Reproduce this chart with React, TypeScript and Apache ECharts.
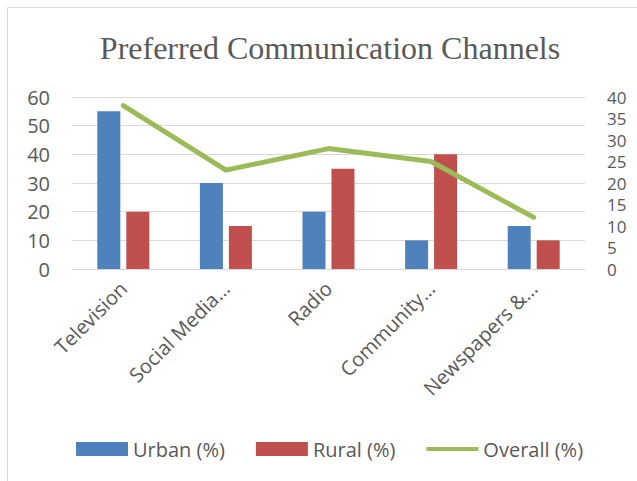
import React, { useEffect, useRef } from "react";
import * as echarts from "echarts";

const categories = ["Television", "Social Media…", "Radio", "Community…", "Newspapers &…"];
const urban = [55, 30, 20, 10, 15];
const rural = [20, 15, 35, 40, 10];
const overall = [38, 23, 28, 25, 12];
const leftTicks = { min: 0, max: 60, interval: 10 };
const rightTicks = { min: 0, max: 40, interval: 5 };

const FONT = "'Open Sans', 'Noto Sans', sans-serif";
const GREY = "#595959";

export default function App() {
  const ref = useRef<HTMLDivElement>(null);
  useEffect(() => {
    document.body.style.margin = "0";
    const chart = echarts.init(ref.current!, undefined, { renderer: "svg" });
    chart.setOption({
      animation: false,
      backgroundColor: "#ffffff",
      graphic: [
        {
          type: "rect",
          shape: { x: 7.5, y: 7.5, width: 660, height: 500 },
          style: { fill: "none", stroke: "#d9d9d9", lineWidth: 1 },
          silent: true,
          z: -1,
        },
      ],
      title: {
        text: "Preferred Communication Channels",
        left: 325,
        textAlign: "center",
        top: 27,
        textStyle: {
          fontFamily: "'Liberation Serif', 'Times New Roman', serif",
          fontSize: 32,
          fontWeight: "normal",
          color: GREY,
        },
      },
      legend: {
        left: 71,
        top: 434,
        itemWidth: 52,
        itemHeight: 14,
        itemGap: 31,
        textStyle: { fontFamily: FONT, fontSize: 20, color: GREY },
        data: [
          { name: "Urban (%)", icon: "rect" },
          { name: "Rural (%)", icon: "rect" },
          {
            name: "Overall (%)",
            icon: "path://M0,0 L55,0 L55,4 L0,4 Z",
            itemStyle: { color: "#9BBB59" },
          },
        ],
      },
      grid: { left: 72, right: 52, top: 97, bottom: 212 },
      xAxis: {
        type: "category",
        data: categories,
        axisLine: { show: true, lineStyle: { color: "#d9d9d9", width: 1 } },
        axisTick: { show: false },
        axisLabel: {
          rotate: 45,
          interval: 0,
          margin: 16,
          fontFamily: FONT,
          fontSize: 20,
          color: GREY,
        },
      },
      yAxis: [
        {
          type: "value",
          ...leftTicks,
          axisLine: { show: false },
          axisTick: { show: false },
          splitLine: { lineStyle: { color: "#d9d9d9", width: 1 } },
          axisLabel: { margin: 22, fontFamily: FONT, fontSize: 20, color: GREY },
        },
        {
          type: "value",
          ...rightTicks,
          axisLine: { show: false },
          axisTick: { show: false },
          splitLine: { show: false },
          axisLabel: {
            margin: 22,
            fontFamily: FONT,
            fontSize: 17,
            lineHeight: 17,
            color: GREY,
          },
        },
      ],
      series: [
        {
          name: "Urban (%)",
          type: "bar",
          data: urban,
          barWidth: 23,
          barGap: "26%",
          itemStyle: { color: "#4F81BD" },
        },
        {
          name: "Rural (%)",
          type: "bar",
          data: rural,
          barWidth: 23,
          barGap: "26%",
          itemStyle: { color: "#C0504D" },
        },
        {
          name: "Overall (%)",
          type: "line",
          yAxisIndex: 1,
          data: overall,
          symbol: "none",
          lineStyle: { color: "#9BBB59", width: 5, cap: "round", join: "round" },
          itemStyle: { color: "#9BBB59" },
        },
      ],
    });
    return () => chart.dispose();
  }, []);
  return <div ref={ref} style={{ width: 637, height: 481 }} />;
}
